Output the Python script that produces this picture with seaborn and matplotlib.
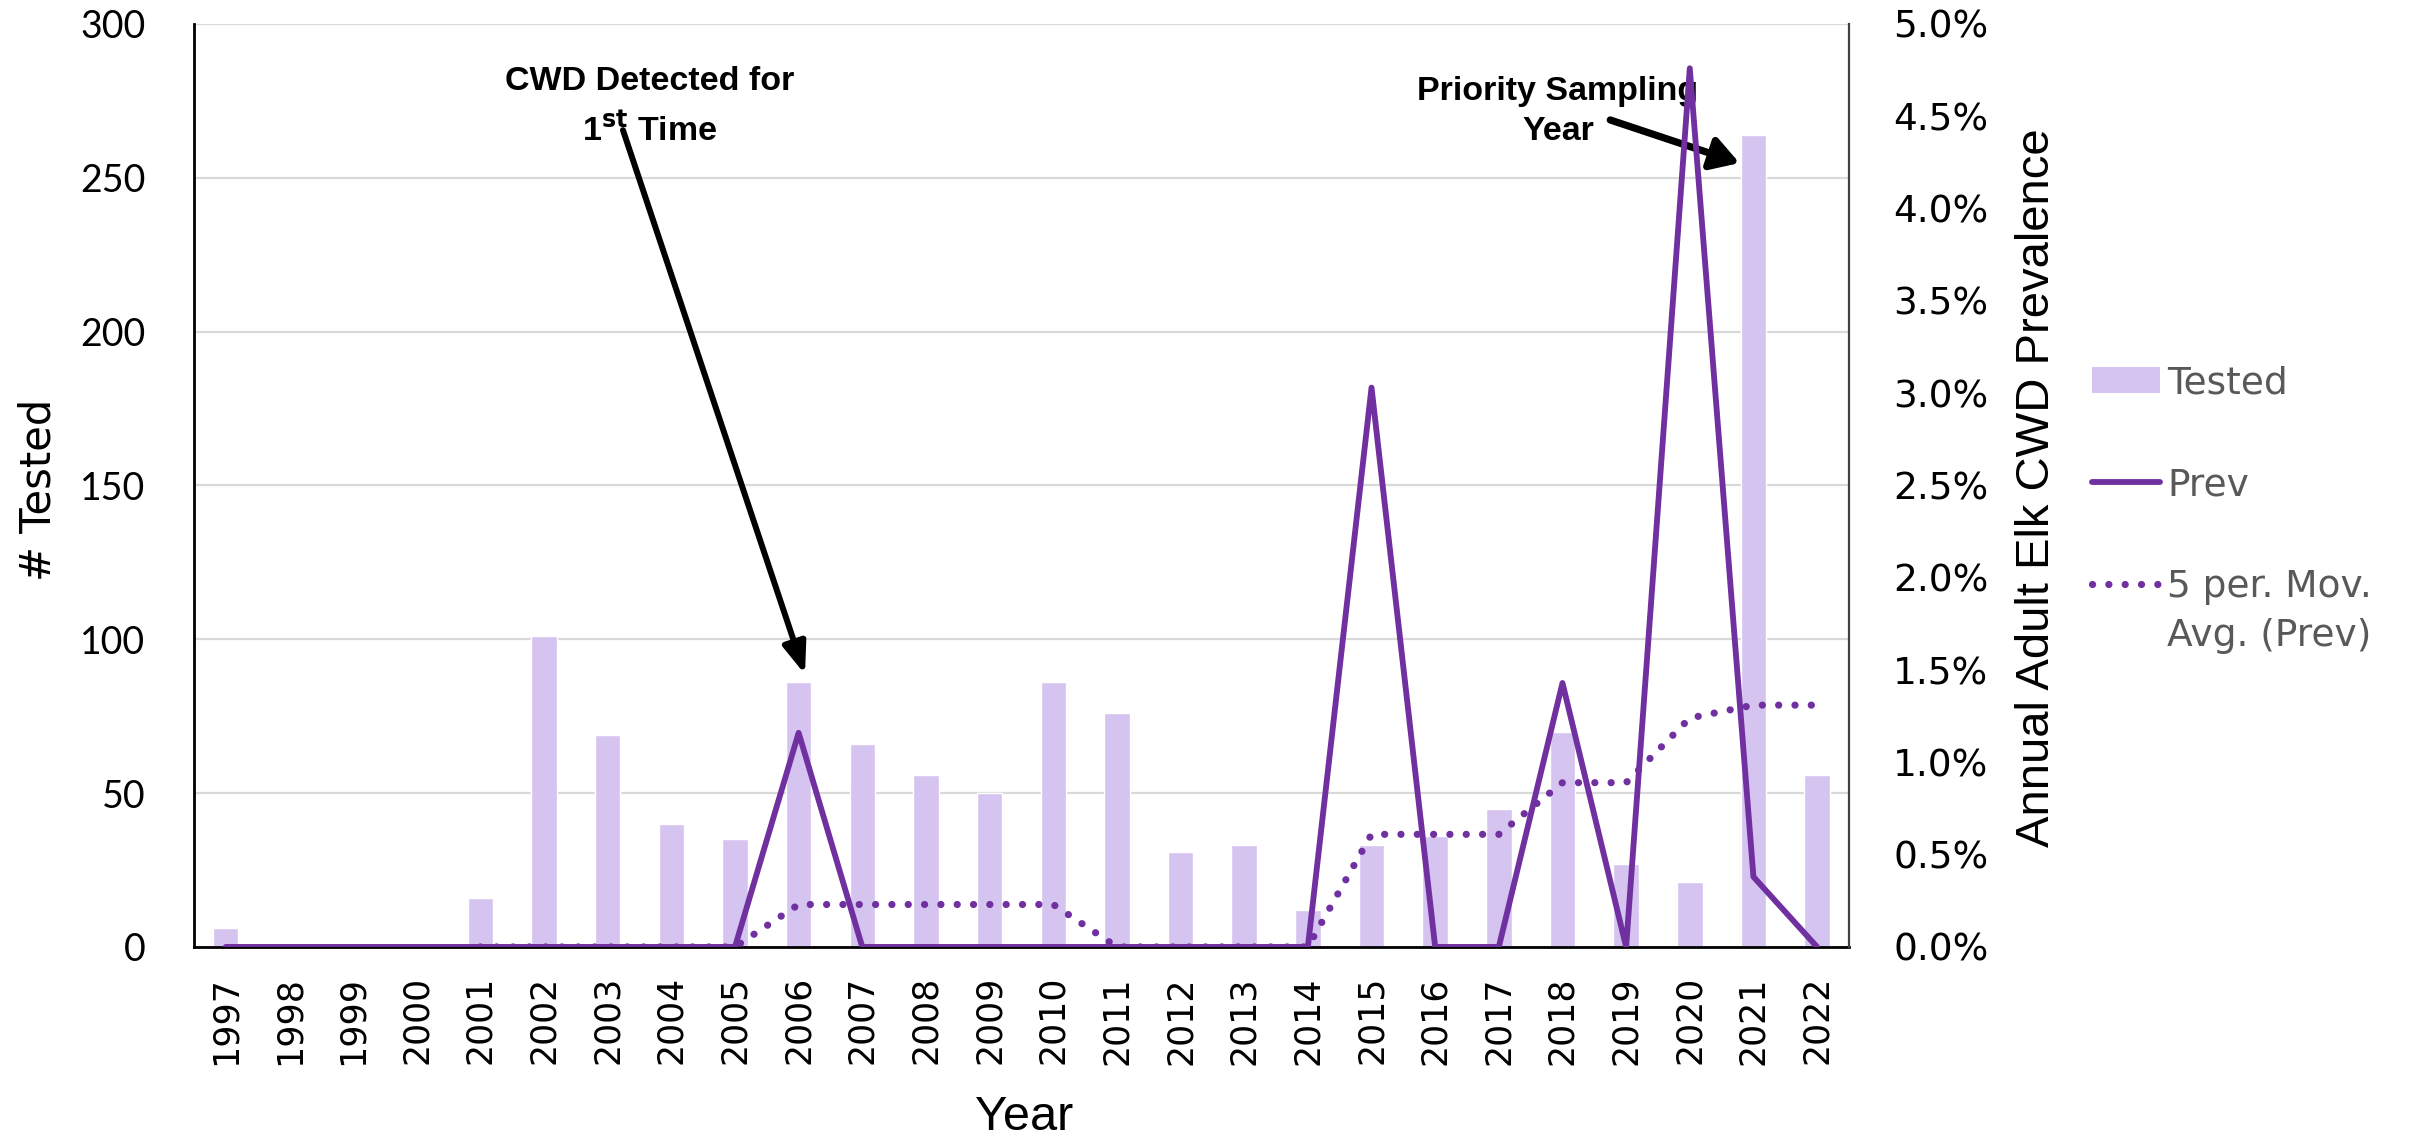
import numpy as np
import pandas as pd
import matplotlib
matplotlib.use("Agg")
import matplotlib.pyplot as plt
import matplotlib.ticker as mtick
from matplotlib.patches import Patch
from matplotlib.lines import Line2D
import seaborn as sns

# ---- data -----------------------------------------------------------------
years = [str(y) for y in range(1997, 2023)]
tested = [6, 0, 0, 0, 16, 101, 69, 40, 35, 86, 66, 56, 50, 86, 76, 31, 33,
          12, 33, 36, 45, 70, 27, 21, 264, 56]
prev_pct = [0, 0, 0, 0, 0, 0, 0, 0, 0, 1.16, 0, 0, 0, 0, 0, 0, 0, 0, 3.03,
            0, 0, 1.43, 0, 4.76, 0.38, 0]
# 5-period moving average of prevalence (defined from 2001 onward)
mov_years = years[4:]
mov_avg_pct = [0, 0, 0, 0, 0, 0.23, 0.23, 0.23, 0.23, 0.23, 0, 0, 0, 0,
               0.61, 0.61, 0.61, 0.89, 0.89, 1.24, 1.31, 1.31]

PURPLE = "#7030A0"
LAVENDER = "#D5C3F0"
GRID = "#D9D9D9"
LEGEND_GRAY = "#595959"
SANS2 = "Liberation Sans"

sns.set_style("white")
plt.rcParams["font.family"] = ["DejaVu Sans"]
plt.rcParams["text.color"] = "black"

fig, ax = plt.subplots(figsize=(24.15, 11.42), dpi=100)
fig.subplots_adjust(left=0.0803, right=0.7656, top=0.979, bottom=0.1708)

df = pd.DataFrame({"Year": years, "Tested": tested})
pos = np.arange(len(years))

# bars: number tested per year (left axis)
sns.barplot(data=df, x="Year", y="Tested", color=LAVENDER, saturation=1,
            width=0.4, ax=ax, zorder=2)
ax.set_axisbelow(True)
ax.yaxis.grid(True, color=GRID, lw=1.6)
ax.xaxis.grid(False)
ax.set_ylim(0, 300)
ax.set_yticks(range(0, 301, 50))
ax.set_xlim(-0.5, len(years) - 0.5)

# lines: prevalence (right axis)
DOTS = (0, (0.01, 2.25))
ax2 = ax.twinx()
sns.lineplot(x=pos[4:], y=mov_avg_pct, ax=ax2, color=PURPLE, lw=5.2,
             linestyle=DOTS, dash_capstyle="round", zorder=3)
sns.lineplot(x=pos, y=prev_pct, ax=ax2, color=PURPLE, lw=4.2,
             solid_joinstyle="round", solid_capstyle="round", zorder=4)
ax2.set_ylim(0, 5)
ax2.yaxis.set_major_locator(mtick.MultipleLocator(0.5))
ax2.yaxis.set_major_formatter(mtick.PercentFormatter(xmax=100, decimals=1))
ax2.set_xlim(-0.5, len(years) - 0.5)
ax2.set_ylabel("")
ax.set_xlabel("")
ax.set_ylabel("")

# spines
for s in ["top", "right"]:
    ax.spines[s].set_visible(False)
for s in ["top", "left", "bottom"]:
    ax2.spines[s].set_visible(False)
ax.spines["left"].set_color("black")
ax.spines["left"].set_linewidth(2)
ax.spines["bottom"].set_color("black")
ax.spines["bottom"].set_linewidth(2)
ax2.spines["right"].set_color("#404040")
ax2.spines["right"].set_linewidth(1.6)

# x ticks: labels at category centres, tick marks at boundaries
ax.set_xticks(pos)
ax.set_xticklabels(years, rotation=90)
ax.set_xticks(np.arange(-0.5, len(years), 1), minor=True)
ax.tick_params(axis="x", which="major", length=0, pad=21, labelsize=25,
               labelcolor="black")
ax.tick_params(axis="x", which="minor", length=11.5, width=1.5,
               color="black", direction="out")

ax.tick_params(axis="y", length=0, pad=35, labelsize=27, labelcolor="black")
for t in ax.get_yticklabels():
    t.set_fontfamily("Lato")
ax2.tick_params(axis="y", length=0, pad=32, labelsize=27, labelcolor="black")

# axis titles
ax.text(-0.094, 0.495, "# Tested", transform=ax.transAxes, rotation=90,
        ha="center", va="center", fontsize=30, rotation_mode="anchor",
        color="black")
ax.text(1.1136, 0.498, "Annual Adult Elk CWD Prevalence",
        transform=ax.transAxes, rotation=90, ha="center", va="center",
        fontsize=34, family=SANS2, rotation_mode="anchor", color="black")
ax.text(0.5015, -0.185, "Year", transform=ax.transAxes, ha="center",
        va="center", fontsize=35, family=SANS2, color="black")

# callouts
CALLOUT = dict(ha="center", va="center", fontsize=24.5, fontweight="bold",
               family=SANS2, color="black", zorder=6)
ax.text(6.66, 281.2, "CWD Detected for", **CALLOUT)
ax.text(6.66, 265.5, r"1$^{\mathbf{st}}$ Time", **CALLOUT)
ax.annotate("", xy=(9.10, 88.6), xytext=(6.24, 265.5),
            arrowprops=dict(arrowstyle="-|>,head_length=0.85,head_width=0.32",
                            lw=4.3, color="black", mutation_scale=22,
                            shrinkA=0, shrinkB=0), zorder=6)

ax.text(20.93, 277.9, "Priority Sampling", **CALLOUT)
ax.text(20.93, 264.9, "Year", **CALLOUT)
ax.annotate("", xy=(23.78, 254.8), xytext=(21.75, 268.8),
            arrowprops=dict(arrowstyle="-|>,head_length=0.75,head_width=0.45",
                            lw=5.2, color="black", mutation_scale=22,
                            shrinkA=0, shrinkB=0), zorder=6)

# legend
handles = [
    Patch(facecolor=LAVENDER, edgecolor="none"),
    Line2D([], [], color=PURPLE, lw=4.2, solid_capstyle="round"),
    Line2D([], [], color=PURPLE, lw=5.2, linestyle=DOTS,
           dash_capstyle="round"),
]
labels = ["Tested", "Prev", "5 per. Mov."]
leg = fig.legend(handles, labels, loc="upper left",
                 bbox_to_anchor=(0.8663, 0.680), frameon=False, fontsize=27,
                 labelcolor=LEGEND_GRAY, handlelength=1.8,
                 handletextpad=0.2, labelspacing=1.75, borderpad=0,
                 borderaxespad=0)

# second line of the moving-average legend entry, under its first line
fig.canvas.draw()
inv = fig.transFigure.inverted()
bb = leg.get_texts()[2].get_window_extent()
x0, y0 = inv.transform((bb.x0, bb.y0))
fig.text(x0, y0 - 0.012, "Avg. (Prev)", ha="left", va="top", fontsize=27,
         color=LEGEND_GRAY)

fig.savefig("out.png", dpi=100)
